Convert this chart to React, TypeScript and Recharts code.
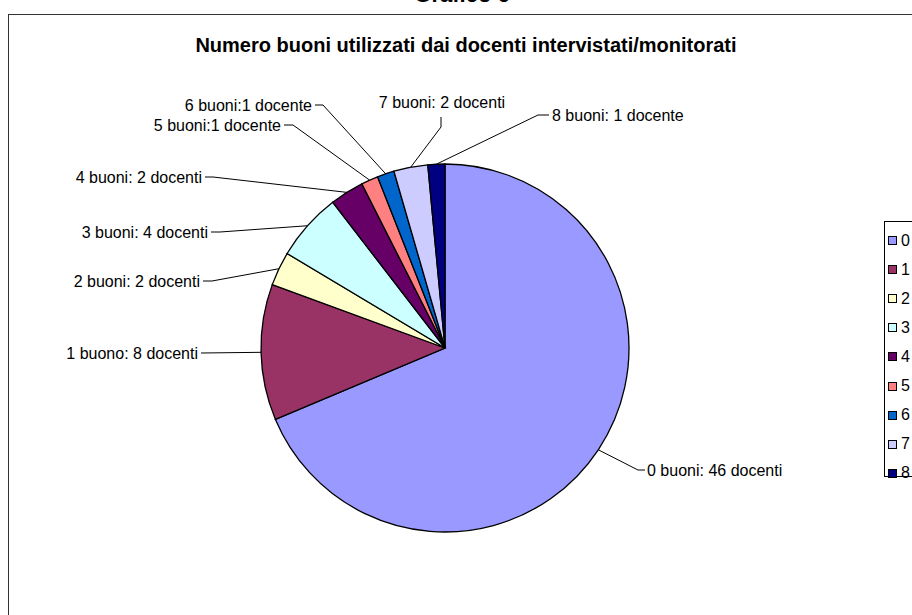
import { Cell, Legend, Pie, PieChart } from "recharts";

const categories = [
  "0 buoni",
  "1 buono",
  "2 buoni",
  "3 buoni",
  "4 buoni",
  "5 buoni",
  "6 buoni",
  "7 buoni",
  "8 buoni",
];
const docenti = [46, 8, 2, 4, 2, 1, 1, 2, 1];
const labelTexts = [
  "0 buoni: 46 docenti",
  "1 buono: 8 docenti",
  "2 buoni: 2 docenti",
  "3 buoni: 4 docenti",
  "4 buoni: 2 docenti",
  "5 buoni:1 docente",
  "6 buoni:1 docente",
  "7 buoni: 2 docenti",
  "8 buoni: 1 docente",
];

const COLORS = [
  "#9999FF",
  "#993366",
  "#FFFFCC",
  "#CCFFFF",
  "#660066",
  "#FF8080",
  "#0066CC",
  "#CCCCFF",
  "#000080",
];

// where each data label sits, and the short leg of its leader line
const LABEL_LAYOUT: {
  x: number;
  y: number;
  anchor: "start" | "end" | "middle";
  leg: [number, number][];
}[] = [
  { x: 647, y: 470, anchor: "start", leg: [[645, 470], [638, 470]] },
  { x: 198, y: 353, anchor: "end", leg: [[201, 353]] },
  { x: 200, y: 281, anchor: "end", leg: [[203, 281], [212, 281]] },
  { x: 208, y: 232, anchor: "end", leg: [[211, 232], [220, 232]] },
  { x: 202, y: 177, anchor: "end", leg: [[205, 177], [213, 177]] },
  { x: 281, y: 125, anchor: "end", leg: [[284, 125], [293, 125]] },
  { x: 312, y: 105, anchor: "end", leg: [[315, 105], [323, 105]] },
  { x: 442, y: 102, anchor: "middle", leg: [[441, 117], [441, 127]] },
  { x: 552, y: 115, anchor: "start", leg: [[549, 115], [538, 115]] },
];

const data = categories.map((name, i) => ({ name, value: docenti[i] }));

const FONT = '"Liberation Sans", Arial, sans-serif';
const RAD = Math.PI / 180;

function SliceLabel(props: any) {
  const { cx, cy, midAngle, outerRadius, index } = props;
  const ex = cx + outerRadius * Math.cos(-midAngle * RAD);
  const ey = cy + outerRadius * Math.sin(-midAngle * RAD);
  const lay = LABEL_LAYOUT[index];
  const pts = [...lay.leg, [ex, ey]].map((p) => p.join(",")).join(" ");
  return (
    <g>
      <polyline points={pts} fill="none" stroke="#000" strokeWidth={1} />
      <text
        x={lay.x}
        y={lay.y}
        textAnchor={lay.anchor}
        dominantBaseline="central"
        fontSize={16}
        fontFamily={FONT}
        fill="#000"
      >
        {labelTexts[index]}
      </text>
    </g>
  );
}

function LegendBox({ payload }: any) {
  return (
    <div
      style={{
        border: "1px solid #000",
        background: "#fff",
        width: 80,
        height: 256,
        boxSizing: "border-box",
        paddingTop: 4,
        fontFamily: FONT,
        fontSize: 16,
      }}
    >
      {(payload || []).map((p: any, i: number) => (
        <div
          key={i}
          style={{ height: 29.1, display: "flex", alignItems: "center", whiteSpace: "nowrap" }}
        >
          <span
            style={{
              display: "inline-block",
              width: 7,
              height: 7,
              marginLeft: 3,
              marginRight: 4,
              border: "1px solid #000",
              background: p.color,
            }}
          />
          <span>{p.value}</span>
        </div>
      ))}
    </div>
  );
}

export default function App() {
  return (
    <div
      style={{
        position: "absolute",
        left: 0,
        top: 0,
        width: 912,
        height: 615,
        overflow: "hidden",
        background: "#fff",
        fontFamily: FONT,
      }}
    >
      <div
        style={{
          position: "absolute",
          left: 0,
          width: 912,
          top: -18,
          textAlign: "center",
          fontSize: 22,
          fontWeight: "bold",
          paddingLeft: 12,
          boxSizing: "border-box",
        }}
      >
        Grafico 6
      </div>
      <div
        style={{
          position: "absolute",
          left: 8,
          top: 14,
          width: 960,
          height: 700,
          border: "1.5px solid #333",
        }}
      />
      <div
        style={{
          position: "absolute",
          left: 0,
          width: 912,
          top: 34,
          textAlign: "center",
          fontSize: 20,
          fontWeight: "bold",
          paddingLeft: 20,
          boxSizing: "border-box",
        }}
      >
        Numero buoni utilizzati dai docenti intervistati/monitorati
      </div>
      <PieChart
        width={912}
        height={615}
        margin={{ top: 0, right: 0, bottom: 0, left: 0 }}
        style={{ position: "absolute", left: 0, top: 0 }}
      >
        <Pie
          data={data}
          dataKey="value"
          nameKey="name"
          cx={445}
          cy={348}
          outerRadius={184}
          startAngle={90}
          endAngle={-270}
          stroke="#000"
          strokeWidth={1.3}
          label={SliceLabel}
          labelLine={false}
          isAnimationActive={false}
        >
          {data.map((_, i) => (
            <Cell key={i} fill={COLORS[i]} />
          ))}
        </Pie>
        <Legend
          layout="vertical"
          align="right"
          verticalAlign="top"
          content={<LegendBox />}
          wrapperStyle={{ left: 884, top: 221, width: 80 }}
        />
      </PieChart>
    </div>
  );
}
